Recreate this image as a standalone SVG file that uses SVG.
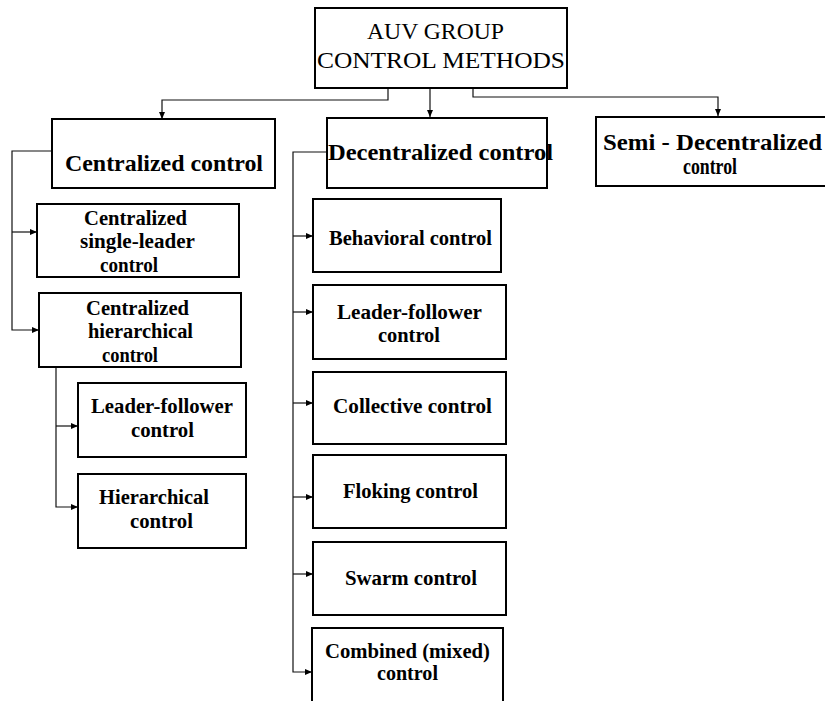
<svg xmlns="http://www.w3.org/2000/svg" width="825" height="701" viewBox="0 0 825 701">
<defs>
<style>
.box{fill:#fff;stroke:#000;stroke-width:2}
text{font-family:'Liberation Serif','DejaVu Serif',serif;fill:#000}
.t{font-weight:bold}
.s{font-size:20.5px}
.m{font-size:24px}
.title{font-size:24px;font-weight:normal}
.c{fill:none;stroke:#111;stroke-width:1.2}
</style>
<marker id="ar" markerUnits="userSpaceOnUse" markerWidth="8" markerHeight="8" refX="7" refY="4" orient="auto">
<path d="M0,1 L7,4 L0,7 Z" fill="#000"/>
</marker>
</defs>
<rect width="825" height="701" fill="#fff"/>
<g id="connectors">
<path class="c" d="M388 88 V100 H162 V119" marker-end="url(#ar)"/>
<path class="c" d="M430 88 V117" marker-end="url(#ar)"/>
<path class="c" d="M473 88 V97 H718 V116" marker-end="url(#ar)"/>
<path class="c" d="M52 151 H12 V330 H39" marker-end="url(#ar)"/>
<path class="c" d="M12 232 H37" marker-end="url(#ar)"/>
<path class="c" d="M56 367 V507 H78" marker-end="url(#ar)"/>
<path class="c" d="M56 426 H78" marker-end="url(#ar)"/>
<path class="c" d="M327 152 H293 V672 H312" marker-end="url(#ar)"/>
<path class="c" d="M293 236 H313" marker-end="url(#ar)"/>
<path class="c" d="M293 312 H313" marker-end="url(#ar)"/>
<path class="c" d="M293 403 H313" marker-end="url(#ar)"/>
<path class="c" d="M293 497 H313" marker-end="url(#ar)"/>
<path class="c" d="M293 574 H313" marker-end="url(#ar)"/>
</g>
<g id="root">
<rect class="box" x="315" y="8" width="252" height="80"/>
<text class="title" x="367" y="39" textLength="137" lengthAdjust="spacingAndGlyphs">AUV GROUP</text>
<text class="title" x="317" y="68" textLength="248" lengthAdjust="spacingAndGlyphs">CONTROL METHODS</text>
</g>
<g id="centralized">
<rect class="box" x="52" y="119" width="223" height="69"/>
<text class="t m" x="65" y="171" textLength="198" lengthAdjust="spacingAndGlyphs">Centralized control</text>
</g>
<g id="decentralized">
<rect class="box" x="327" y="118" width="220" height="70"/>
<text class="t m" x="328" y="160" textLength="225" lengthAdjust="spacingAndGlyphs">Decentralized control</text>
</g>
<g id="semi">
<rect class="box" x="596" y="117" width="240" height="69"/>
<text class="t m" x="603" y="150" textLength="219" lengthAdjust="spacingAndGlyphs">Semi - Decentralized</text>
<text class="t m" x="683" y="174" textLength="54" lengthAdjust="spacingAndGlyphs">control</text>
</g>
<g id="single-leader">
<rect class="box" x="37" y="204" width="202" height="73"/>
<text class="t s" x="84" y="225" textLength="103" lengthAdjust="spacingAndGlyphs">Centralized</text>
<text class="t s" x="80" y="248" textLength="115" lengthAdjust="spacingAndGlyphs">single-leader</text>
<text class="t s" x="100" y="272" textLength="58" lengthAdjust="spacingAndGlyphs">control</text>
</g>
<g id="hierarchical-c">
<rect class="box" x="39" y="293" width="202" height="74"/>
<text class="t s" x="86" y="315" textLength="103" lengthAdjust="spacingAndGlyphs">Centralized</text>
<text class="t s" x="88" y="338" textLength="105" lengthAdjust="spacingAndGlyphs">hierarchical</text>
<text class="t s" x="102" y="362" textLength="56" lengthAdjust="spacingAndGlyphs">control</text>
</g>
<g id="leader-follower-c">
<rect class="box" x="78" y="383" width="168" height="74"/>
<text class="t s" x="91" y="413" textLength="142" lengthAdjust="spacingAndGlyphs">Leader-follower</text>
<text class="t s" x="131" y="437" textLength="63" lengthAdjust="spacingAndGlyphs">control</text>
</g>
<g id="hierarchical">
<rect class="box" x="78" y="474" width="168" height="74"/>
<text class="t s" x="99" y="504" textLength="110" lengthAdjust="spacingAndGlyphs">Hierarchical</text>
<text class="t s" x="130" y="528" textLength="63" lengthAdjust="spacingAndGlyphs">control</text>
</g>
<g id="behavioral">
<rect class="box" x="313" y="199" width="188" height="73"/>
<text class="t s" x="329" y="245" textLength="163" lengthAdjust="spacingAndGlyphs">Behavioral control</text>
</g>
<g id="leader-follower-d">
<rect class="box" x="313" y="285" width="193" height="74"/>
<text class="t s" x="337" y="319" textLength="145" lengthAdjust="spacingAndGlyphs">Leader-follower</text>
<text class="t s" x="378" y="342" textLength="62" lengthAdjust="spacingAndGlyphs">control</text>
</g>
<g id="collective">
<rect class="box" x="313" y="372" width="193" height="72"/>
<text class="t s" x="333" y="413" textLength="159" lengthAdjust="spacingAndGlyphs">Collective control</text>
</g>
<g id="floking">
<rect class="box" x="313" y="455" width="193" height="73"/>
<text class="t s" x="343" y="498" textLength="135" lengthAdjust="spacingAndGlyphs">Floking control</text>
</g>
<g id="swarm">
<rect class="box" x="313" y="542" width="193" height="73"/>
<text class="t s" x="345" y="585" textLength="132" lengthAdjust="spacingAndGlyphs">Swarm control</text>
</g>
<g id="combined">
<rect class="box" x="312" y="628" width="191" height="90"/>
<text class="t s" x="325" y="658" textLength="165" lengthAdjust="spacingAndGlyphs">Combined (mixed)</text>
<text class="t s" x="377" y="680" textLength="61" lengthAdjust="spacingAndGlyphs">control</text>
</g>
</svg>
